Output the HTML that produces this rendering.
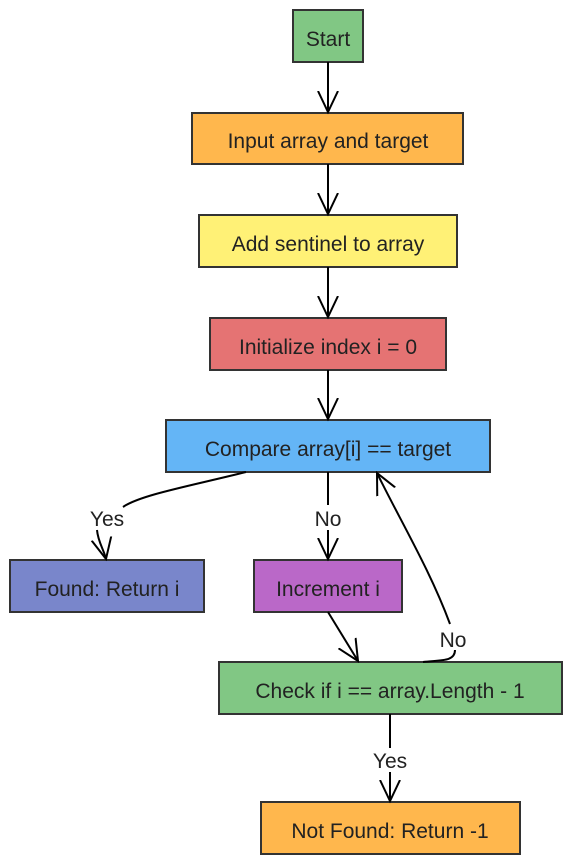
<!DOCTYPE html>
<html><head><style>body{margin:0;background:#fff}svg{display:block}text{font-family:"Liberation Sans",sans-serif;font-size:21px;fill:#222}</style></head><body>
<svg width="573" height="865" viewBox="0 0 573 865" xmlns="http://www.w3.org/2000/svg">
<defs><marker id="a" markerWidth="24" markerHeight="26" refX="21" refY="13" orient="auto" markerUnits="userSpaceOnUse"><path d="M0,3 L21,13 L0,23" fill="none" stroke="#000" stroke-width="2"/></marker></defs>
<g stroke="#333" stroke-width="2">
<rect x="293" y="10" width="70" height="52" fill="#81c784"/>
<rect x="192" y="113" width="271" height="51" fill="#ffb74d"/>
<rect x="199" y="215" width="258" height="52" fill="#fff176"/>
<rect x="210" y="318" width="236" height="52" fill="#e57373"/>
<rect x="166" y="420" width="324" height="52" fill="#64b5f6"/>
<rect x="10" y="560" width="194" height="52" fill="#7986cb"/>
<rect x="254" y="560" width="148" height="52" fill="#ba68c8"/>
<rect x="219" y="662" width="343" height="52" fill="#81c784"/>
<rect x="261" y="802" width="259" height="52" fill="#ffb74d"/>
</g>
<g fill="none" stroke="#000" stroke-width="2" marker-end="url(#a)">
<path d="M328,62 V112"/>
<path d="M328,164 V214"/>
<path d="M328,267 V317"/>
<path d="M328,370 V419"/>
<path d="M246,472 C190,486 140,495 123,507 M97,530 C98,542 104,550 106,559"/>
<path d="M328,472 V505 M328,530 V559"/>
<path d="M328,612 L358,661"/>
<path d="M423,662 C440,660 455,662 455,650 M450,624 C430,570 400,520 377,473"/>
<path d="M390,714 V748 M390,772 V801"/>
</g>
<g text-anchor="middle">
<text x="328" y="46">Start</text>
<text x="328" y="148">Input array and target</text>
<text x="328" y="251">Add sentinel to array</text>
<text x="328" y="354">Initialize index i = 0</text>
<text x="328" y="456">Compare array[i] == target</text>
<text x="107" y="596">Found: Return i</text>
<text x="328" y="596">Increment i</text>
<text x="390" y="698">Check if i == array.Length - 1</text>
<text x="390" y="838">Not Found: Return -1</text>
<text x="107" y="526">Yes</text>
<text x="328" y="526">No</text>
<text x="453" y="647">No</text>
<text x="390" y="768">Yes</text>
</g>
</svg>
</body></html>
